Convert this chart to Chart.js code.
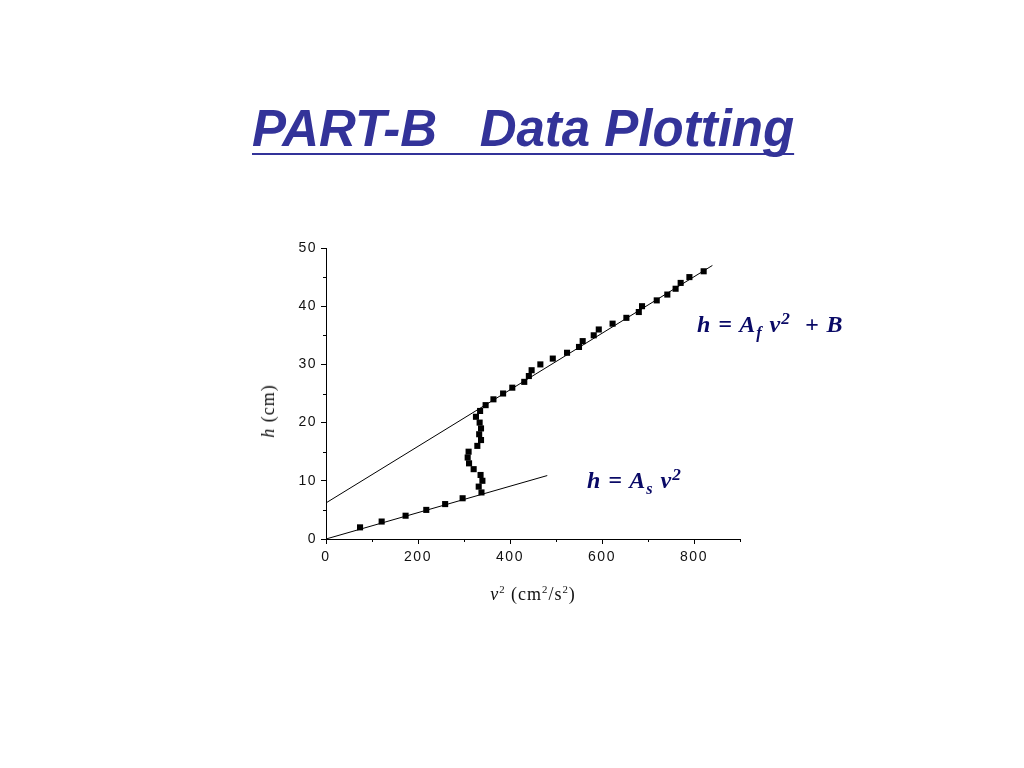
<!DOCTYPE html>
<html>
<head>
<meta charset="utf-8">
<script src="https://cdn.jsdelivr.net/npm/chart.js@4/dist/chart.umd.min.js"></script>
<style>
    body { margin: 0; background: #fff; }
    #page { position: relative; width: 1024px; height: 768px; overflow: hidden; }
    #chart { position: absolute; left: 0; top: 0; }
    .title {
        position: absolute; left: 252px; top: 103px;
        font: italic bold 51px "Liberation Sans", Arial, sans-serif;
        line-height: 51px; color: #333399; white-space: pre;
        text-decoration: underline; text-decoration-thickness: 2px;
        text-underline-offset: 7px; text-decoration-skip-ink: none;
    }
    .eq {
        position: absolute; white-space: pre; color: #0a0a66;
        font: italic bold 24px "Liberation Serif", "Times New Roman", serif;
        line-height: 24px; letter-spacing: 1px;
    }
    .sub { position: relative; top: 6px; font-size: 68%; }
    .sup { position: relative; top: -8px; font-size: 72%; }
    .axis-title {
        position: absolute; white-space: pre; color: #111;
        font: 18px "Liberation Serif", "Times New Roman", serif;
        line-height: 18px; letter-spacing: 1px;
    }
    .axis-title .s { position: relative; top: -7px; font-size: 60%; }
</style>
</head>
<body>
<div id="page">
    <canvas id="chart" width="1024" height="768"></canvas>
    <div class="title">PART-B   Data Plotting</div>
    <div class="eq" style="left:697px; top:312px;">h = A<span class="sub">f</span> v<span class="sup">2</span>  + B</div>
    <div class="eq" style="left:587px; top:468px;">h = A<span class="sub">s</span> v<span class="sup">2</span></div>
    <div class="axis-title" style="left:268px; top:411px; transform: translate(-50%, -50%) rotate(-90deg);"><i>h</i> (cm)</div>
    <div class="axis-title" style="left:533px; top:585px; transform: translateX(-50%);"><i>v</i><span class="s">2</span> (cm<span class="s">2</span>/s<span class="s">2</span>)</div>
</div>
<script>
/* ================= DATA ================= */
const v2Values = [74, 121, 173, 218, 259, 297, 338, 332, 340, 336, 321, 311, 308, 310, 329,
                  337, 333, 337, 334, 326, 335, 347, 364, 385, 405, 431, 441, 447, 466, 493,
                  524, 550, 558, 582, 593, 623, 653, 680, 687, 719, 742, 760, 771, 790, 821];
const hValues  = [2, 3, 4, 5, 6, 7, 8, 9, 10, 11, 12, 13, 14, 15, 16,
                  17, 18, 19, 20, 21, 22, 23, 24, 25, 26, 27, 28, 29, 30, 31,
                  32, 33, 34, 35, 36, 37, 38, 39, 40, 41, 42, 43, 44, 45, 46];

// fitted lines: h = As v^2  and  h = Af v^2 + B
const staticLineV2 = [0, 481];
const staticLineH  = [0, 10.9];
const flowLineV2   = [0, 840];
const flowLineH    = [6.2, 47];

const xTickLabels = [0, 200, 400, 600, 800];
const yTickLabels = [0, 10, 20, 30, 40, 50];

/* ================= HELPERS ================= */
function toPoints(xs, ys) {
    return xs.map((x, i) => ({ x: x, y: ys[i] }));
}

// short minor ticks between the labelled ones
const minorTicks = {
    id: "minorTicks",
    beforeDraw(chart) {
        chart.ctx.letterSpacing = "1.5px";
    },
    afterDraw(chart) {
        const ctx = chart.ctx;
        ctx.letterSpacing = "0px";
        ctx.save();
        ctx.strokeStyle = "#000";
        ctx.lineWidth = 1;
        const xs = chart.scales.x, ys = chart.scales.y;
        xs.ticks.forEach(t => {
            if (xTickLabels.includes(t.value)) return;
            const px = Math.round(xs.getPixelForValue(t.value)) + 0.5;
            ctx.beginPath();
            ctx.moveTo(px, xs.top);
            ctx.lineTo(px, xs.top + 3);
            ctx.stroke();
        });
        ys.ticks.forEach(t => {
            if (yTickLabels.includes(t.value)) return;
            const py = Math.round(ys.getPixelForValue(t.value)) + 0.5;
            ctx.beginPath();
            ctx.moveTo(ys.right, py);
            ctx.lineTo(ys.right - 3, py);
            ctx.stroke();
        });
        ctx.restore();
    }
};

const tickFont = { family: "'Liberation Sans', Arial, sans-serif", size: 14 };

/* ================= CHART ================= */
new Chart(document.getElementById("chart"), {
    type: "scatter",
    data: {
        datasets: [
            {
                data: toPoints(v2Values, hValues),
                pointStyle: "rect",
                pointRadius: 4.3,
                backgroundColor: "#000",
                borderWidth: 0
            },
            {
                data: toPoints(staticLineV2, staticLineH),
                showLine: true,
                borderColor: "#000",
                borderWidth: 1,
                pointRadius: 0
            },
            {
                data: toPoints(flowLineV2, flowLineH),
                showLine: true,
                borderColor: "#000",
                borderWidth: 1,
                pointRadius: 0
            }
        ]
    },
    options: {
        responsive: false,
        animation: false,
        layout: { padding: { left: 286, right: 284, top: 248, bottom: 199 } },
        plugins: {
            legend: { display: false },
            tooltip: { enabled: false }
        },
        scales: {
            x: {
                type: "linear",
                min: 0,
                max: 900,
                afterFit: s => { s.height = 30; },
                border: { color: "#000", width: 1 },
                grid: {
                    drawOnChartArea: false,
                    tickLength: 5,
                    tickColor: c => (c.tick && xTickLabels.includes(c.tick.value)) ? "#000" : "rgba(0,0,0,0)"
                },
                ticks: {
                    stepSize: 100,
                    padding: 5,
                    color: "#111",
                    font: tickFont,
                    maxRotation: 0,
                    autoSkip: false,
                    callback: v => xTickLabels.includes(v) ? v : ""
                }
            },
            y: {
                min: 0,
                max: 50,
                afterFit: s => { s.width = 40; },
                border: { color: "#000", width: 1 },
                grid: {
                    drawOnChartArea: false,
                    tickLength: 5,
                    tickColor: c => (c.tick && yTickLabels.includes(c.tick.value)) ? "#000" : "rgba(0,0,0,0)"
                },
                ticks: {
                    stepSize: 5,
                    padding: 4,
                    color: "#111",
                    font: tickFont,
                    autoSkip: false,
                    callback: v => yTickLabels.includes(v) ? v : ""
                }
            }
        }
    },
    plugins: [minorTicks]
});
</script>
</body>
</html>
